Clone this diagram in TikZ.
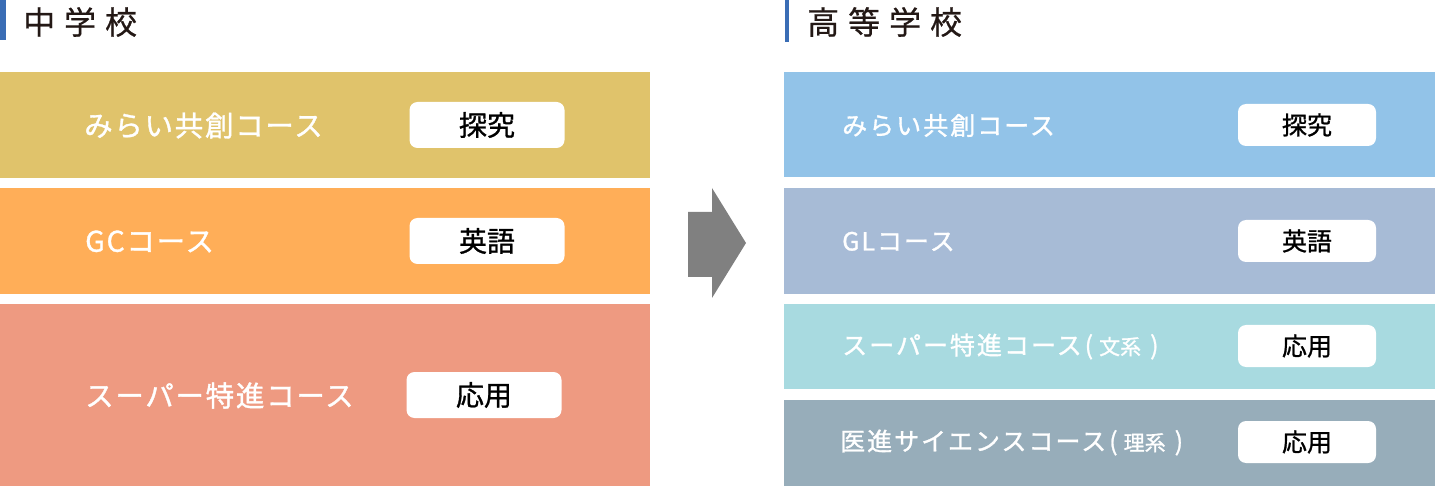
\documentclass[tikz,border=0pt]{standalone}
\usepackage{fontspec}
\setmainfont{Noto Sans CJK JP}
\newfontfamily\headfont[LetterSpace=28,FakeBold=0.6]{Noto Sans CJK JP}
\newfontfamily\labfont[LetterSpace=6,FakeBold=1.2]{Noto Sans CJK JP}
\newfontfamily\labRfont[LetterSpace=8,FakeBold=1.2]{Noto Sans CJK JP}
\newfontfamily\plainjp[FakeBold=1.0]{Noto Sans CJK JP}
\newfontfamily\parjp[FakeBold=1.0]{Noto Sans CJK JP}
\definecolor{barblue}{HTML}{3A6DB5}
\definecolor{headtxt}{HTML}{231815}
\definecolor{cA}{HTML}{E0C36B}
\definecolor{cB}{HTML}{FFAE58}
\definecolor{cC}{HTML}{EE9A81}
\definecolor{cD}{HTML}{92C3E8}
\definecolor{cE}{HTML}{A7BBD6}
\definecolor{cF}{HTML}{A8DAE0}
\definecolor{cG}{HTML}{97ADBA}
\definecolor{arrowgray}{HTML}{808080}
\tikzset{
  band/.style={anchor=north west, inner sep=0pt, outer sep=0pt, draw=none},
  head/.style={anchor=west, inner sep=0pt, text=headtxt, font=\headfont\fontsize{32}{36}\selectfont},
  labL/.style={anchor=west, inner sep=0pt, text=white, font=\labfont\fontsize{28.5}{32}\selectfont},
  labR/.style={anchor=west, inner sep=0pt, text=white, font=\labRfont\fontsize{25}{29}\selectfont},
  pillL/.style={fill=white, rounded corners=8pt, inner sep=0pt, minimum width=155pt, minimum height=46pt, text=black, font=\plainjp\fontsize{28}{31}\selectfont},
  pillR/.style={fill=white, rounded corners=8pt, inner sep=0pt, minimum width=138pt, minimum height=42pt, text=black, font=\plainjp\fontsize{25}{29}\selectfont},
}
\newcommand{\smallpar}[1]{{\parjp\fontsize{25}{28}\selectfont\hspace{3pt}(\hspace{6pt}{\fontsize{21}{24}\selectfont #1}\hspace{9pt})}}
\begin{document}
\begin{tikzpicture}[x=1pt,y=-1pt]
\useasboundingbox (0,0) rectangle (1435,486);
% headings
\fill[barblue] (0,0) rectangle (6,40);
\node[head] (hL) at (23,22) {中学校};
\fill[barblue] (785,0) rectangle (789,42);
\node[head] (hR) at (807,22) {高等学校};
% left bands
\node[band, fill=cA, minimum width=650pt, minimum height=106pt] (L1) at (0,72) {};
\node[band, fill=cB, minimum width=650pt, minimum height=106pt] (L2) at (0,188) {};
\node[band, fill=cC, minimum width=650pt, minimum height=182pt] (L3) at (0,304) {};
% right bands
\node[band, fill=cD, minimum width=651pt, minimum height=105pt] (R1) at (784,72) {};
\node[band, fill=cE, minimum width=651pt, minimum height=106pt] (R2) at (784,188) {};
\node[band, fill=cF, minimum width=651pt, minimum height=85pt] (R3) at (784,304) {};
\node[band, fill=cG, minimum width=651pt, minimum height=86pt] (R4) at (784,400) {};
% left labels
\node[labL] (tL1) at (84,125.5) {みらい共創コース};
\node[labL] (tL2) at (85,241.5) {GCコース};
\node[labL] (tL3) at (85,395.5) {スーパー特進コース};
\node[pillL] (pL1) at (487,125) {探究};
\node[pillL] (pL2) at (487,241) {英語};
\node[pillL] (pL3) at (484,395) {応用};
% right labels
\node[labR] (tR1) at (842,125.5) {みらい共創コース};
\node[labR] (tR2) at (842,241.5) {GLコース};
\node[labR] (tR3) at (842,346.5) {スーパー特進コース\smallpar{文系}};
\node[labR] (tR4) at (840,442.5) {医進サイエンスコース\smallpar{理系}};
\node[pillR] (pR1) at (1307,125) {探究};
\node[pillR] (pR2) at (1307,241) {英語};
\node[pillR] (pR3) at (1307,346) {応用};
\node[pillR] (pR4) at (1307,442) {応用};
% arrow
\fill[arrowgray] (688,212) -- (712,212) -- (712,188) -- (746,243) -- (712,298) -- (712,277) -- (688,277) -- cycle;
\end{tikzpicture}
\end{document}
